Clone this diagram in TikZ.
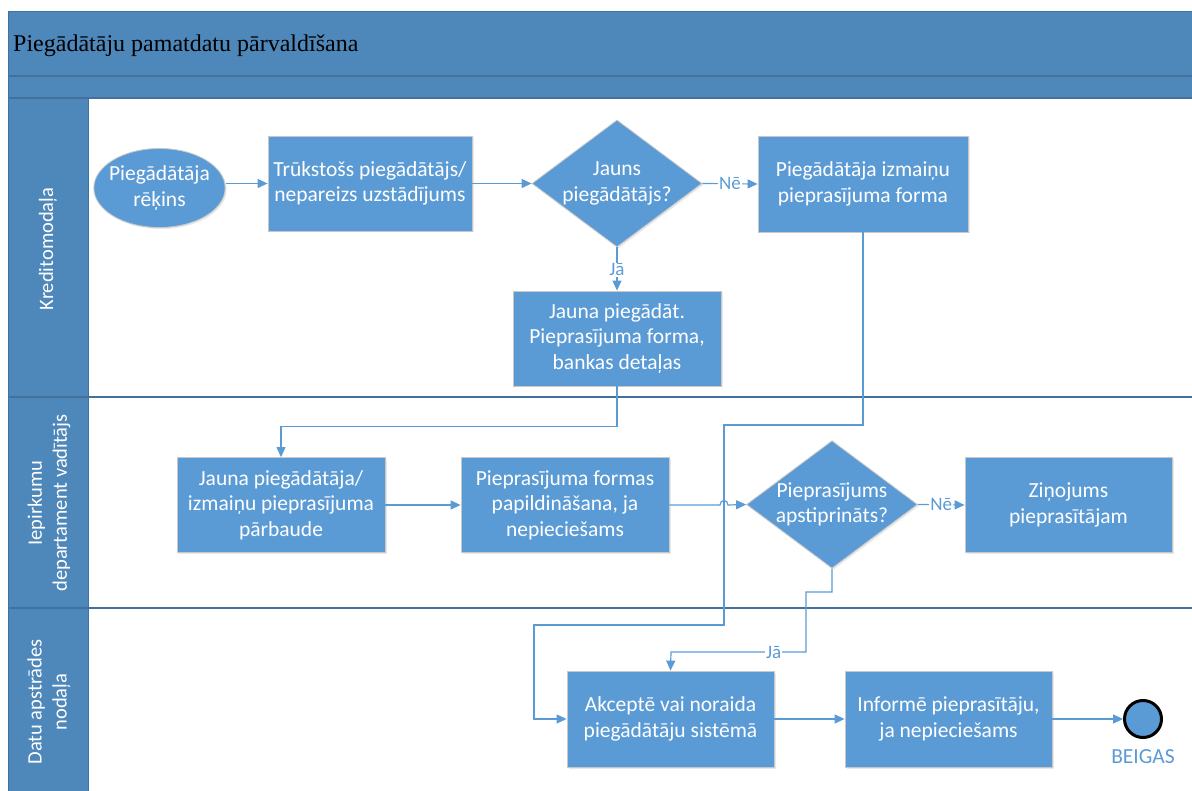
\documentclass[tikz,border=0pt]{standalone}
\usepackage{fontspec}
\setmainfont{Carlito}
\newfontfamily\titlefont{Liberation Serif}
\usetikzlibrary{shapes.geometric,arrows.meta,shadows}
\definecolor{bandblue}{HTML}{4E87BA}
\definecolor{bandedge}{HTML}{41719C}
\definecolor{shapeblue}{HTML}{5B9BD5}
\definecolor{shapeedge}{HTML}{C8C8C8}
\tikzset{
  proc/.style={rectangle, fill=shapeblue, draw=shapeedge, line width=0.8pt,
    text=white, align=center, font=\fontsize{21.5}{25.5}\selectfont,
    minimum width=207pt, minimum height=95pt, inner sep=2pt,
    drop shadow={shadow xshift=1.5pt, shadow yshift=-1.5pt, opacity=0.18}},
  decision/.style={diamond, fill=shapeblue, draw=shapeedge, line width=0.8pt,
    text=white, align=center, font=\fontsize{21.5}{25.5}\selectfont,
    minimum width=170pt, minimum height=127pt, inner sep=0pt, aspect=1.34,
    drop shadow={shadow xshift=1.5pt, shadow yshift=-1.5pt, opacity=0.18}},
  terminal/.style={ellipse, fill=shapeblue, draw=shapeedge, line width=0.8pt,
    text=white, align=center, font=\fontsize{21.5}{25.5}\selectfont,
    minimum width=129pt, minimum height=79pt, inner xsep=-4pt, inner ysep=-4pt,
    drop shadow={shadow xshift=1.5pt, shadow yshift=-1.5pt, opacity=0.18}},
  endpoint/.style={circle, fill=shapeblue, draw=black, line width=3pt,
    minimum size=37pt, inner sep=0pt},
  flow/.style={draw=shapeblue, line width=1.2pt, -{Triangle[length=10pt,width=9pt]}},
  choice/.style={font=\fontsize{19}{19}\selectfont, text=shapeblue, fill=white, inner sep=1pt},
  lanetext/.style={rotate=90, text=white, align=center, font=\fontsize{20.5}{25}\selectfont},
  laneline/.style={draw=bandedge, line width=1.2pt}
}
\begin{document}
\begin{tikzpicture}[x=1pt, y=-1pt]
\useasboundingbox (0,0) rectangle (1192,791);

% header bands and lane column
\fill[bandblue] (8,12) rectangle (1192,98);
\fill[bandblue] (8,98) rectangle (88,791);
\draw[laneline, line width=1pt] (8,12) -- (1192,12);
\draw[laneline] (8,76) -- (1192,76);
\draw[laneline] (8,98) -- (1192,98);
\draw[laneline] (8,397) -- (1192,397);
\draw[laneline] (8,608) -- (1192,608);
\draw[laneline, line width=1pt] (8,12) -- (8,791);
\draw[bandedge, line width=0.6pt] (88,98) -- (88,791);

\node[anchor=base west, font=\titlefont\fontsize{24}{28}\selectfont, inner sep=0pt] (title) at (13,52) {Piegādātāju pamatdatu pārvaldīšana};

% lane names
\node[lanetext] (laneA) at (48,249) {Kreditomodaļa};
\node[lanetext] (laneB) at (49,503) {Iepirkumu\\departament vadītājs};
\node[lanetext] (laneC) at (49,702) {Datu apstrādes\\nodaļa};

% process shapes
\node[terminal] (start) at (159.5,188) {Piegādātāja\\rēķins};
\node[proc, minimum width=204pt] (missing) at (370,183.5) {Trūkstošs piegādātājs/\\nepareizs uzstādījums};
\node[decision] (isnew) at (617,183.5) {Jauns\\piegādātājs?};
\node[proc, minimum width=210pt, minimum height=96pt] (changeform) at (863,184) {Piegādātāja izmaiņu\\pieprasījuma forma};
\node[proc, minimum width=208pt] (newform) at (617,338.5) {Jauna piegādāt.\\Pieprasījuma forma,\\bankas detaļas};
\node[proc, minimum width=208pt] (check) at (281,505) {Jauna piegādātāja/\\izmaiņu pieprasījuma\\pārbaude};
\node[proc, minimum width=208pt] (complete) at (565,505) {Pieprasījuma formas\\papildināšana, ja\\nepieciešams};
\node[decision] (approved) at (832,504.5) {Pieprasījums\\apstiprināts?};
\node[proc] (notify) at (1068.5,505) {Ziņojums\\pieprasītājam};
\node[proc, minimum height=96pt] (accept) at (670.5,719) {Akceptē vai noraida\\piegādātāju sistēmā};
\node[proc, minimum height=96pt] (inform) at (948.5,719) {Informē pieprasītāju,\\ja nepieciešams};
\node[endpoint] (finish) at (1143,719) {};
\node[font=\fontsize{21.5}{22}\selectfont, text=shapeblue] (finishlabel) at (1143,757) {BEIGAS};

% connectors
\draw[flow] (missing.west -| start.east) -- (missing.west);
\draw[flow] (isnew.west -| missing.east) -- (isnew.west);
\draw[flow] (isnew.east) -- node[choice] {Nē} (changeform.west);
\draw[flow] (isnew.south) -- node[choice, pos=0.52] {Jā} (newform.north);
\draw[flow] (newform.south) -- ++(0,40) -| (check.north);
\draw[flow] (check.east) -- (complete.west);
\draw[flow] (complete.east) -- (720,505) .. controls (720,499) and (728,499) .. (728,505) -- (approved.west);
\draw[flow] (approved.east) -- node[choice] {Nē} (notify.west);
\coordinate (bendA) at (806,592);
\coordinate (bendB) at (671,652);
\draw[flow] (approved.south) |- (bendA) |- node[choice, pos=0.62] {Jā} (bendB) -- (accept.north);
\coordinate (bendC) at (724,425);
\coordinate (bendD) at (534,625);
\draw[flow] (changeform.south) |- (bendC) |- (bendD) |- (accept.west);
\draw[flow] (accept.east) -- (inform.west);
\draw[flow] (inform.east) -- (finish.west);
\end{tikzpicture}
\end{document}
